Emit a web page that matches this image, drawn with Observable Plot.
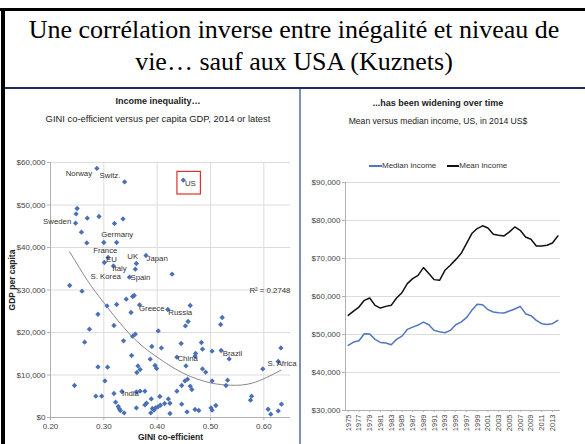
<!DOCTYPE html>
<html><head><meta charset="utf-8">
<script src="https://cdn.jsdelivr.net/npm/d3@7"></script>
<script src="https://cdn.jsdelivr.net/npm/@observablehq/plot@0.6"></script>
<style>
body{margin:0;background:#fff;}
#page{position:relative;width:585px;height:444px;overflow:hidden;background:#fff;font-family:"Liberation Sans",Arial,sans-serif;}
.abs{position:absolute;}
#title{left:5px;top:14px;width:578px;text-align:center;font-family:"Liberation Serif","Times New Roman",serif;font-size:26px;line-height:32px;color:#000;}
.ptitle{font-weight:bold;font-size:9px;color:#222;text-align:center;width:300px;}
.psub{font-size:8.6px;color:#222;text-align:center;width:300px;}
.leg{font-size:8px;color:#333;white-space:nowrap;}
</style></head>
<body><div id="page">
<div class="abs" style="left:0;top:8px;width:585px;height:3px;background:#000"></div>
<div class="abs" style="left:1px;top:8px;width:4px;height:436px;background:#000"></div>
<div class="abs" style="left:5px;top:87px;width:580px;height:2px;background:#1f2d5c"></div>
<div class="abs" style="left:299px;top:89px;width:2px;height:355px;background:#7f8fb9"></div>
<div id="title" class="abs">Une corrélation inverse entre inégalité et niveau de<br>vie… sauf aux USA (Kuznets)</div>

<div class="abs ptitle" style="left:8px;top:96px">Income inequality…</div>
<div class="abs psub" style="left:8px;top:113px;font-size:9.4px">GINI co-efficient versus per capita GDP, 2014 or latest</div>
<div class="abs ptitle" style="left:288px;top:98px">...has been widening over time</div>
<div class="abs psub" style="left:288px;top:116px">Mean versus median income, US, in 2014 US$</div>

<div id="left" class="abs" style="left:0;top:89px"></div>
<div id="right" class="abs" style="left:302px;top:89px"></div>
<div class="abs" style="left:5px;top:280px;transform:translate(-50%,-50%) rotate(-90deg);transform-origin:center;font-weight:bold;font-size:8.5px;color:#222;white-space:nowrap;margin-left:7px">GDP per capita</div>

<div class="abs leg" style="left:369px;top:161px"><span style="display:inline-block;width:13px;height:1.6px;background:#4f76bf;vertical-align:middle"></span>Median income<span style="display:inline-block;width:12px;height:1.6px;background:#111;vertical-align:middle;margin-left:11px"></span>Mean income</div>
</div>
<script>
// ---- Left chart data: GINI vs GDP per capita ----
const giniValues = [0.287,0.339,0.449,0.250,0.248,0.247,0.269,0.291,0.320,0.336,0.258,0.268,0.300,0.324,0.308,0.301,0.318,0.361,0.379,0.359,0.348,0.428,0.236,0.259,0.306,0.324,0.342,0.354,0.357,0.367,0.351,0.289,0.319,0.273,0.264,0.337,0.354,0.359,0.402,0.390,0.408,0.352,0.387,0.396,0.399,0.289,0.307,0.364,0.368,0.362,0.302,0.245,0.285,0.296,0.319,0.334,0.361,0.368,0.377,0.322,0.327,0.329,0.331,0.338,0.361,0.377,0.380,0.389,0.405,0.391,0.394,0.397,0.401,0.406,0.414,0.421,0.424,0.388,0.420,0.462,0.458,0.453,0.522,0.519,0.445,0.483,0.485,0.503,0.472,0.471,0.437,0.454,0.520,0.535,0.485,0.491,0.503,0.532,0.529,0.457,0.452,0.462,0.465,0.446,0.437,0.446,0.471,0.478,0.456,0.501,0.503,0.510,0.424,0.598,0.627,0.632,0.577,0.575,0.608,0.613,0.627,0.633];
const gdpValues = [58600,55440,55840,49180,47910,45720,46900,47300,45650,46730,43600,41080,41180,41180,37650,36470,35670,36230,38120,34900,33010,33720,31060,29720,26260,26590,27840,28470,28700,26500,24700,24300,21650,20780,17720,18030,19130,19600,20380,16700,16380,14590,13720,12230,11530,11910,11840,12140,11290,10590,8610,7530,5010,5010,5650,6120,6020,6190,6190,3600,2590,2030,1650,1080,2260,2960,3370,4380,4940,2120,1720,2260,2490,2890,3290,4380,3360,1080,25410,26350,22590,21550,23530,21880,17410,17650,16070,15600,15060,14420,14190,12140,15760,13790,11440,10660,8610,8780,7530,9010,8610,7370,6590,7530,6190,3130,1880,1650,1320,2260,1720,2820,940,11440,13180,16380,5010,4070,1950,780,1550,3130];
// polynomial trend line
const trendGini = [0.236,0.269,0.300,0.351,0.400,0.450,0.500,0.538,0.580,0.632];
const trendGdp  = [38970,32300,27000,19300,14200,10350,8150,7600,8150,11130];
// labels placed left of their point
const endLabelNames = ["Norway","Sweden"];
const endLabelGini  = [0.278,0.239];
const endLabelGdp   = [57500,46030];
// labels placed right of their point
const startLabelNames = ["Switz.","US","Germany","France","EU","UK","Japan","Italy","S. Korea","Spain","Greece","Russia","China","Brazil","S. Africa","India","R² = 0.2748"];
const startLabelGini  = [0.292,0.452,0.295,0.280,0.304,0.344,0.380,0.316,0.275,0.350,0.366,0.421,0.438,0.523,0.607,0.334,0.573];
const startLabelGdp   = [57000,55060,43060,39200,37180,37950,37320,35160,33080,33010,25720,24710,13880,15130,12700,5650,29800];
const usBox = [0.438,0.482,52470,57790];
const giniTicks = [0.20,0.30,0.40,0.50,0.60];
const gdpTicks = [0,10000,20000,30000,40000,50000,60000];

// ---- Right chart data: US income ----
const years = d3.range(1975,2015);
const medianIncome = [47130,48000,48370,50200,50110,48710,47920,47740,47300,48710,49580,51340,51950,52480,53270,52570,51080,50730,50470,51080,52570,53270,54420,56350,57930,57840,56530,55910,55740,55650,56180,56700,57400,55480,54950,53720,52840,52660,52840,53720];
const meanIncome = [55030,56170,57220,58990,59600,57670,56960,57400,57670,59600,61010,63380,64700,65570,67600,66020,64440,64260,66890,68210,69700,71290,73930,76560,77880,78600,78040,76380,76110,75930,77000,78300,77430,75670,75060,73300,73300,73500,74090,75930];
const yearTicks = d3.range(1975,2014,2);
const incomeTicks = [30000,40000,50000,60000,70000,80000,90000];

const blue = "#4a70b8";
const dollar = d => "$" + d3.format(",")(d);
const pts = giniValues.map((g,i)=>({g, v: gdpValues[i]}));
const trend = trendGini.map((g,i)=>({g, v: trendGdp[i]}));
const endLabels = endLabelNames.map((n,i)=>({n, g: endLabelGini[i], v: endLabelGdp[i]}));
const startLabels = startLabelNames.map((n,i)=>({n, g: startLabelGini[i], v: startLabelGdp[i]}));

const left = Plot.plot({
  width: 298, height: 355,
  marginLeft: 50, marginRight: 8, marginTop: 73, marginBottom: 27,
  style: {fontFamily: "'Liberation Sans',Arial,sans-serif", fontSize: "8px", color: "#444", background: "transparent", overflow: "visible"},
  x: {domain: [0.2, 0.65]},
  y: {domain: [0, 60000]},
  marks: [
    Plot.gridX(giniTicks.slice(1), {stroke: "#dcdcdc", strokeOpacity: 1}),
    Plot.gridY(gdpTicks.slice(1), {stroke: "#dcdcdc", strokeOpacity: 1}),
    Plot.ruleX([0.2], {stroke: "#b0b0b0"}),
    Plot.ruleY([0], {stroke: "#b0b0b0"}),
    Plot.axisY(gdpTicks, {tickFormat: dollar, tickSize: 3, tickPadding: 2, stroke: "#b0b0b0", label: null}),
    Plot.axisX(giniTicks, {tickFormat: d => d.toFixed(2), tickSize: 3, tickPadding: 3, stroke: "#b0b0b0", label: null}),
    Plot.line(trend, {x: "g", y: "v", stroke: "#8a8a8a", strokeWidth: 1, curve: "natural"}),
    Plot.dot(pts, {x: "g", y: "v", symbol: "diamond2", fill: blue, stroke: "none", r: 2.4}),
    Plot.rect([usBox], {x1: d => d[0], x2: d => d[1], y1: d => d[2], y2: d => d[3], fill: "none", stroke: "#d9342b", strokeWidth: 1.2}),
    Plot.text(endLabels, {x: "g", y: "v", text: "n", textAnchor: "end", fill: "#333", fontSize: 7.8}),
    Plot.text(startLabels, {x: "g", y: "v", text: "n", textAnchor: "start", fill: "#333", fontSize: 7.8}),
    Plot.text(["GINI co-efficient"], {frameAnchor: "bottom", dy: 22, fontWeight: "bold", fontSize: 8.5, fill: "#222"})
  ]
});
document.getElementById("left").appendChild(left);

const inc = [];
years.forEach((y,i)=>{ inc.push({y, v: medianIncome[i], s: "Median income"}); inc.push({y, v: meanIncome[i], s: "Mean income"}); });

const right = Plot.plot({
  width: 283, height: 355,
  marginLeft: 43, marginRight: 25, marginTop: 93, marginBottom: 34,
  style: {fontFamily: "'Liberation Sans',Arial,sans-serif", fontSize: "8px", color: "#444", background: "transparent", overflow: "visible"},
  x: {domain: [1974.5, 2014.5]},
  y: {domain: [30000, 90000]},
  marks: [
    Plot.gridY(incomeTicks.slice(1), {stroke: "#dcdcdc", strokeOpacity: 1}),
    Plot.ruleX([1974.5], {stroke: "#b0b0b0"}),
    Plot.ruleY([30000], {stroke: "#b0b0b0"}),
    Plot.axisY(incomeTicks, {tickFormat: dollar, tickSize: 3, tickPadding: 2, stroke: "#b0b0b0", label: null}),
    Plot.axisX(yearTicks, {tickFormat: d => String(d), tickRotate: -90, tickSize: 2, tickPadding: 2, stroke: "#b0b0b0", label: null, fontSize: 7.5}),
    Plot.line(inc, {x: "y", y: "v", z: "s", stroke: d => d.s === "Median income" ? "#4f76bf" : "#111", strokeWidth: 1.5})
  ]
});
document.getElementById("right").appendChild(right);
</script>
</body></html>
